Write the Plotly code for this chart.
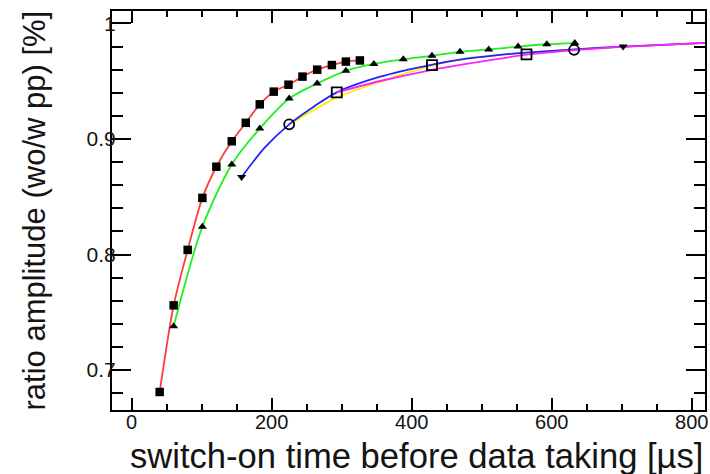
import plotly.graph_objects as go

# ---- measured data -------------------------------------------------------
# switch-on time [us] and amplitude ratio (wo/w pp)
red_t = [40, 60, 80, 101, 121, 143, 163, 183, 203, 224, 244, 265, 286, 306, 326]
red_r = [0.681, 0.756, 0.804, 0.849, 0.876, 0.898, 0.914, 0.930, 0.941,
         0.947, 0.954, 0.960, 0.964, 0.967, 0.968]

green_t = [60, 101, 143, 183, 225, 265, 306, 346, 388, 429, 469, 510, 552, 593, 633]
green_r = [0.738, 0.824, 0.878, 0.909, 0.935, 0.948, 0.959, 0.965, 0.969,
           0.972, 0.9755, 0.9775, 0.980, 0.982, 0.983]

# fitted curves for the three later switch-on scans
blue_t = [157, 190, 225, 260, 293, 355, 426, 478, 526, 564, 633, 702, 819]
blue_r = [0.867, 0.8925, 0.9127, 0.928, 0.9404, 0.9539, 0.9640, 0.9695,
          0.9728, 0.9748, 0.9776, 0.9800, 0.9832]

yellow_t = [225, 260, 293, 355, 426, 478, 526, 564, 633, 702, 819]
yellow_r = [0.9127, 0.9250, 0.9360, 0.9495, 0.9630, 0.9695, 0.9728,
            0.9748, 0.9775, 0.9800, 0.9830]

magenta_t = [293, 355, 426, 478, 526, 564, 633, 702, 819]
magenta_r = [0.9404, 0.9502, 0.9595, 0.9650, 0.9695, 0.9730, 0.9770,
             0.9798, 0.9832]

# measurement points of those scans
tri_down_t = [157, 702]
tri_down_r = [0.867, 0.980]
circle_t = [225, 632]
circle_r = [0.9127, 0.9772]
square_t = [293, 429, 564]
square_r = [0.9404, 0.9640, 0.9733]

x_ticks = [0, 200, 400, 600, 800]
y_ticks = [0.7, 0.8, 0.9, 1.0]
y_tick_text = ["0.7", "0.8", "0.9", "1"]

FONT = "Liberation Sans, Arial, Helvetica, sans-serif"
TXT = "#141414"

fig = go.Figure()

def curve(t, r, color, width=1.8):
    fig.add_trace(go.Scatter(
        x=t, y=r, mode="lines",
        line=dict(color=color, width=width, shape="spline", smoothing=0.8),
        hoverinfo="skip", showlegend=False))

curve(yellow_t, yellow_r, "#ffee00")
curve(blue_t, blue_r, "#2222ff")
curve(magenta_t, magenta_r, "#ff22ff")
curve(red_t, red_r, "#ff3a3a")
curve(green_t, green_r, "#22ee22")

def points(t, r, symbol, size, lw=0.0):
    fig.add_trace(go.Scatter(
        x=t, y=r, mode="markers",
        marker=dict(symbol=symbol, size=size, color="black",
                    line=dict(color="black", width=lw)),
        showlegend=False))

points(red_t, red_r, "square", 8.5)
points(green_t, green_r, "triangle-up", 8)
points(tri_down_t, tri_down_r, "triangle-down", 8)
points(circle_t, circle_r, "circle-open", 10, 1.8)
points(square_t, square_r, "square-open", 10, 1.8)

axis_common = dict(
    showline=True, linecolor="black", linewidth=2, mirror="allticks",
    ticks="inside", tickcolor="black", tickwidth=2,
    showgrid=False, zeroline=False, automargin=False,
)

fig.update_xaxes(
    range=[-28.1, 819], tickvals=x_ticks, ticklen=12, ticklabelstandoff=-7,
    tickfont=dict(family=FONT, size=20, color=TXT),
    minor=dict(dtick=50, tick0=0, ticks="inside", ticklen=6,
               tickcolor="black", tickwidth=2),
    **axis_common)
fig.update_yaxes(
    range=[0.6654, 1.0108], tickvals=y_ticks, ticktext=y_tick_text, ticklen=19,
    ticklabelstandoff=-10,
    tickfont=dict(family=FONT, size=21, color=TXT),
    minor=dict(dtick=0.02, tick0=0.7, ticks="inside", ticklen=11,
               tickcolor="black", tickwidth=2),
    **axis_common)

fig.add_annotation(
    text="switch-on time before data taking [µs]",
    xref="paper", yref="paper", x=1, y=0, xanchor="right", yanchor="middle",
    yshift=-46, showarrow=False,
    font=dict(family=FONT, size=34.6, color=TXT))
fig.add_annotation(
    text="ratio amplitude (wo/w pp) [%]",
    xref="paper", yref="paper", x=0, y=0.5, xanchor="center", yanchor="middle",
    xshift=-78, textangle=-90, showarrow=False,
    font=dict(family=FONT, size=31, color=TXT))

fig.update_layout(
    width=710, height=474,
    margin=dict(l=112, r=5, t=11, b=64, autoexpand=False),
    paper_bgcolor="white", plot_bgcolor="white",
    showlegend=False,
)

fig.write_html("out.html")
